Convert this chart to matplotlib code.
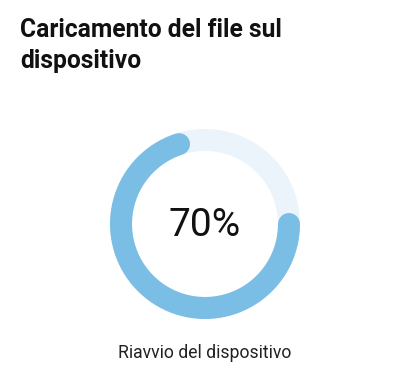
import numpy as np
import matplotlib
matplotlib.use("Agg")
import matplotlib.pyplot as plt

titolo = "Caricamento del file sul\ndispositivo"
etichetta = "Riavvio del dispositivo"
percentuale = 70

colore_arco = "#7abde5"
colore_traccia = "#ebf4fa"

W, H = 411, 387
fig = plt.figure(figsize=(W / 100, H / 100), dpi=100)
ax = fig.add_axes([0, 0, 1, 1])
ax.set_xlim(0, W)
ax.set_ylim(H, 0)
ax.axis("off")

# anello: centro e raggio in pixel
cx, cy, r = 205, 224, 84
spessore = 22 * 72 / 100

t = np.linspace(0, 2 * np.pi, 400)
ax.plot(cx + r * np.cos(t), cy + r * np.sin(t), color=colore_traccia,
        lw=spessore, solid_capstyle="butt", zorder=1)

# arco di avanzamento: parte dalle ore 3 in senso orario
ampiezza = percentuale / 100 * 2 * np.pi
a = np.linspace(0, ampiezza, 300)
ax.plot(cx + r * np.cos(a), cy + r * np.sin(a), color=colore_arco,
        lw=spessore, solid_capstyle="round", zorder=2)

ax.text(cx, 236, f"{percentuale}%", ha="center", va="baseline",
        fontsize=28, family="Roboto", color="#111111")

# va="baseline" su testo a due righe: vale per l'ultima riga
ax.text(20, 68, titolo, ha="left", va="baseline", fontsize=17.7,
        family="Roboto", fontweight="bold", color="#111111",
        linespacing=1.36)

ax.text(cx, 358, etichetta, ha="center", va="baseline", fontsize=12.7,
        family="Roboto", color="#222222")

fig.savefig("out.png", dpi=100)
